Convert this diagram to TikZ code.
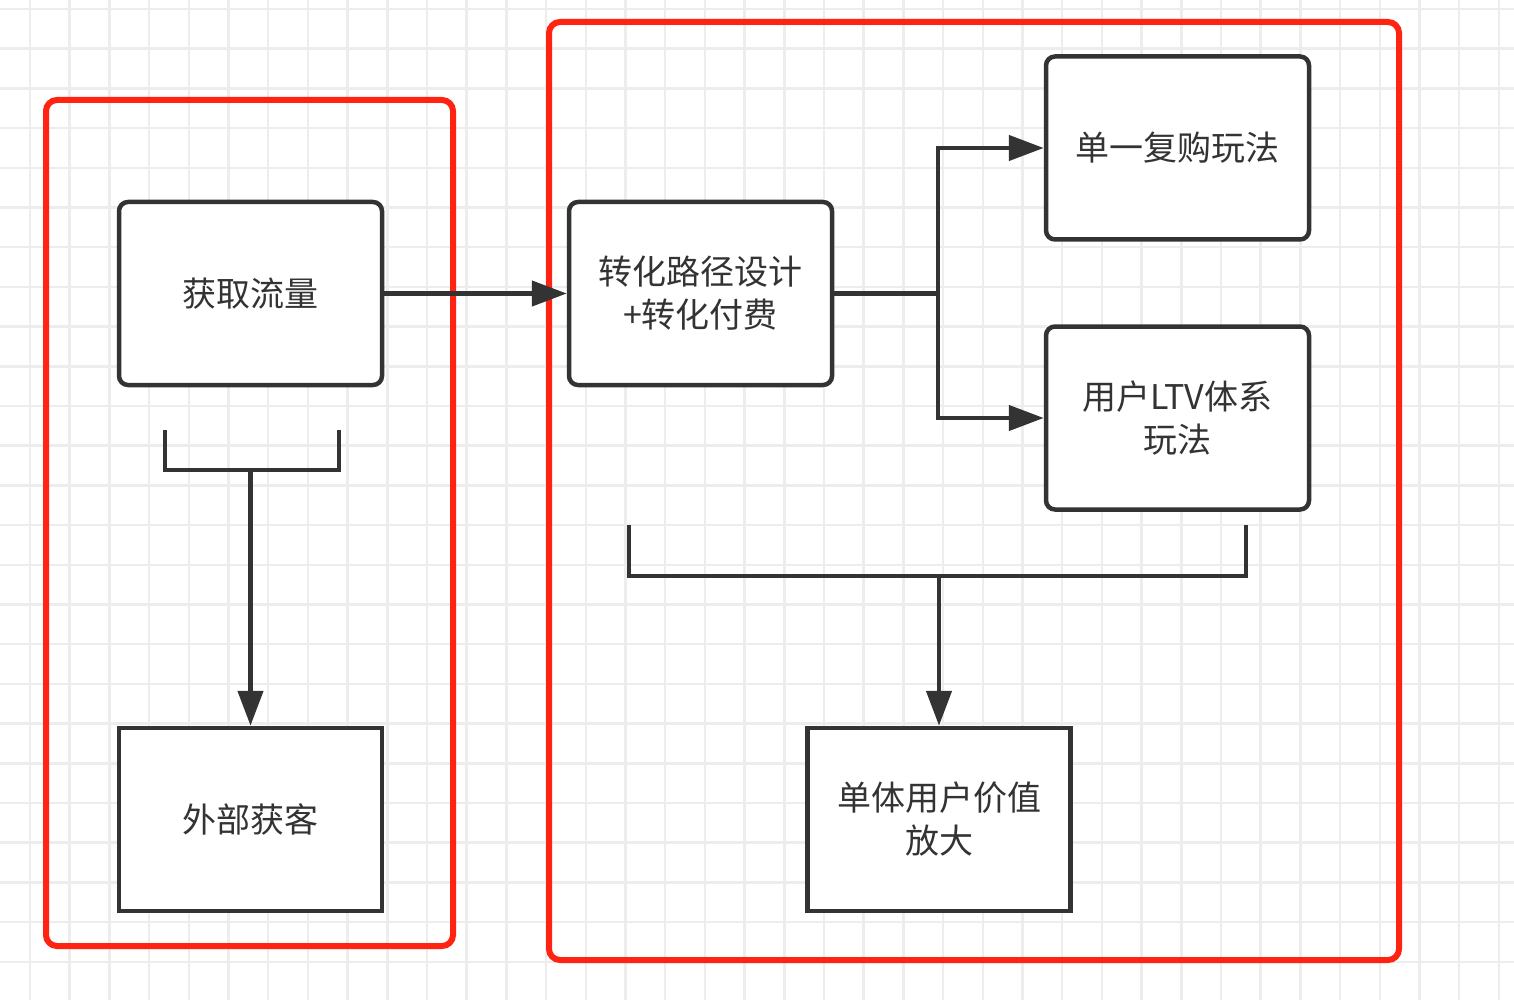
\documentclass[tikz,border=0pt]{standalone}
\usepackage{fontspec}
\setmainfont{Noto Sans CJK SC}
\usetikzlibrary{arrows.meta}
\definecolor{ink}{HTML}{333333}
\definecolor{gridc}{HTML}{EDEDED}
\definecolor{frame}{HTML}{FF2311}
\tikzset{
  box/.style={draw=ink, line width=4.5pt, fill=white, minimum width=263pt, minimum height=183pt,
    inner sep=0pt, text=ink, align=center, font=\fontsize{34}{43}\selectfont},
  rbox/.style={box, rounded corners=9pt},
  frm/.style={draw=frame, line width=6pt, rounded corners=11pt, inner sep=0pt},
  wire/.style={draw=ink, line width=4.5pt},
  conn/.style={wire, -{Triangle[length=35pt,width=25pt]}},
}
\begin{document}
\begin{tikzpicture}[x=1pt,y=-1pt]
\useasboundingbox (0,0) rectangle (1514,1000);
\fill[white] (0,0) rectangle (1514,1000);
% grid
\foreach \i in {0,...,37} { \draw[gridc, line width=2.5pt] ({30+39.7*\i},0) -- ({30+39.7*\i},1000); }
\foreach \j in {0,...,25} { \draw[gridc, line width=2.5pt] (0,{9+39.7*\j}) -- (1514,{9+39.7*\j}); }
% frames
\node[frm, minimum width=407pt, minimum height=846pt] (leftframe) at (249.5,523) {};
\node[frm, minimum width=850pt, minimum height=938pt] (rightframe) at (974,491) {};
% boxes
\node[rbox] (traffic) at (250.5,293.5) {获取流量};
\node[box] (acquire) at (250.5,819.5) {外部获客};
\node[rbox] (convert) at (700.5,293.5) {转化路径设计\\+转化付费};
\node[rbox] (repurchase) at (1177.5,148) {单一复购玩法};
\node[rbox] (ltv) at (1177.5,418) {用户LTV体系\\玩法};
\node[box] (value) at (939,819.5) {单体用户价值\\放大};
% connectors
\draw[conn] (traffic.east) -- (convert.west);
\coordinate (split) at (938,293.5);
\draw[wire] (convert.east) -- (split);
\draw[conn] (split) |- (repurchase.west);
\draw[conn] (split) |- (ltv.west);
% left bracket
\coordinate (lb) at (250.5,470);
\draw[wire] (165,430) -- (165,470) -- (339,470) -- (339,430);
\draw[conn] (lb) -- (acquire.north);
% right bracket
\coordinate (rb) at (939,576);
\draw[wire] (629,525) -- (629,576) -- (1246,576) -- (1246,525);
\draw[conn] (rb) -- (value.north);
\end{tikzpicture}
\end{document}
